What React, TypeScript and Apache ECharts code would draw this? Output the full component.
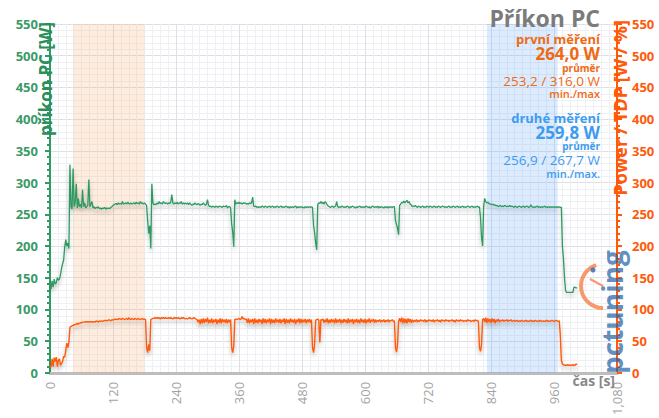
import React, { useEffect, useRef } from "react";
import * as echarts from "echarts";

// sampling step of both measured series, in seconds
const STEP_S = 2;

// příkon PC [W], one value every 2 s from t = 0
const powerPC = [
  138,132,145,135,148,140,142,150,146,148,155,165,172,178,198,210,200,205,196,328,
  262,258,322,262,268,298,260,275,262,266,260,289,262,268,260,262,264,305,262,266,
  270,260,262,259,261,260,262,259,260,258,260,259,261,258,260,259,260,259,261,262,
  264,265,266,267,265,268,266,267,266,270,266,267,268,266,269,267,266,268,266,267,
  268,266,269,267,268,266,270,267,268,266,268,266,264,240,220,232,196,298,268,265,
  266,265,268,266,270,267,268,266,270,268,267,268,266,268,267,269,281,268,266,268,
  267,269,266,268,267,270,266,268,266,268,266,268,265,268,266,264,266,265,268,266,
  265,267,266,264,266,265,268,266,264,266,273,264,262,263,261,263,262,261,263,262,
  261,263,262,262,261,263,262,262,264,260,262,262,260,235,222,199,273,266,268,267,
  269,267,268,266,268,267,268,266,267,266,268,267,268,277,263,262,263,261,262,261,
  262,261,263,262,261,263,262,261,262,263,261,262,263,261,262,261,263,262,261,262,
  263,261,262,261,262,263,261,262,260,262,261,262,261,262,263,260,262,261,262,261,
  262,261,260,262,261,262,261,262,261,262,261,232,221,205,194,266,268,267,270,267,
  269,266,270,268,265,263,262,261,262,263,261,262,263,270,262,261,262,261,263,262,
  261,262,261,263,262,260,262,261,263,262,261,260,262,261,262,263,261,262,261,262,
  261,263,262,261,262,260,261,263,262,261,262,261,263,260,262,261,262,261,260,262,
  261,262,260,262,261,262,261,262,262,240,234,228,218,264,266,269,268,271,268,270,
  272,268,270,266,265,262,263,262,264,262,261,263,262,261,262,263,261,262,261,263,
  262,261,263,262,261,262,263,261,262,261,263,262,261,262,263,262,261,262,261,262,
  263,261,262,261,263,262,261,262,263,261,262,261,262,263,261,262,261,262,263,262,
  261,262,263,261,262,261,262,263,261,262,245,213,200,262,275,270,268,269,267,266,
  266,265,266,264,265,263,264,262,263,264,262,263,262,264,263,262,263,262,264,262,
  263,262,261,263,262,261,262,263,262,261,262,263,261,262,263,262,261,262,265,262,
  261,262,261,262,263,261,262,261,262,261,262,263,261,262,261,262,261,262,261,262,
  261,262,261,262,261,262,261,261,200,180,150,130,127,127,127,127,127,127,127,135,
  135,134,134,
];

// Power / TDP [W / %], one value every 2 s from t = 0
const powerTDP = [
  10,9,22,10,24,18,25,10,20,22,12,15,18,26,25,35,47,40,48,72,
  73,74,75,76,76,77,78,77,78,79,79,80,80,80,81,80,81,80,81,80,
  81,80,81,80,82,81,80,82,81,82,81,82,83,82,83,82,84,83,82,84,
  83,84,85,84,85,84,86,85,84,86,85,84,85,86,84,87,85,84,86,85,
  84,86,85,84,86,85,84,85,86,84,85,84,40,32,45,35,84,85,86,86,
  87,86,87,86,87,85,87,86,87,86,87,86,86,87,86,87,86,85,87,86,
  87,86,87,86,85,87,86,87,86,85,86,85,86,87,86,85,86,87,86,85,
  84,80,84,77,85,78,86,79,85,80,87,78,84,79,86,78,84,80,85,77,
  84,79,86,78,85,80,84,79,85,78,84,80,84,40,32,42,84,85,84,85,
  86,84,85,89,85,86,84,85,79,86,78,84,80,85,77,86,79,84,78,85,
  80,84,77,86,79,85,78,84,80,86,77,85,79,84,78,86,80,84,79,85,
  78,84,80,86,77,85,79,84,78,86,80,84,79,85,77,84,80,86,78,85,
  79,84,80,85,78,84,80,85,79,84,40,32,44,83,84,85,83,48,84,83,
  85,79,84,80,86,78,84,79,85,80,84,78,86,79,84,80,85,78,84,79,
  85,80,84,78,86,79,84,80,85,77,84,80,85,79,84,78,86,80,84,79,
  85,78,84,80,86,79,84,81,85,79,84,80,83,81,84,80,83,81,84,80,
  83,81,84,80,83,82,84,81,82,40,33,45,82,86,80,87,78,86,79,85,
  78,86,80,85,79,84,80,83,81,84,80,83,81,84,82,83,81,84,80,83,
  81,84,82,83,81,84,80,83,82,84,81,83,80,84,82,83,81,84,82,83,
  81,83,82,84,81,83,80,84,82,83,81,84,82,83,81,82,83,81,84,82,
  83,81,82,83,81,84,82,83,81,40,34,45,84,86,80,87,79,86,80,85,
  79,86,80,85,78,84,81,85,80,83,82,84,81,83,82,84,81,83,82,84,
  81,82,83,81,82,83,81,82,81,83,82,81,82,83,81,82,81,82,83,81,
  82,81,83,82,81,82,81,83,82,81,82,81,82,83,81,82,81,82,83,82,
  81,82,83,82,81,82,60,20,14,13,12,12,12,13,12,12,12,12,13,12,
  12,14,13,
];

// measurement windows [s]
const firstRun = [44, 180];
const secondRun = [832, 967];

// axis settings
const xMax = 1080;
const xInterval = 120;
const yMax = 550;
const yInterval = 50;

// texts
const title = "Příkon PC";
const run1 = { name: "první měření", avg: "264,0 W", avgLabel: "průměr", minmax: "253,2 / 316,0 W", minmaxLabel: "min./max" };
const run2 = { name: "druhé měření", avg: "259,8 W", avgLabel: "průměr", minmax: "256,9 / 267,7 W", minmaxLabel: "min./max." };
const leftAxisName = "příkon PC [W]";
const rightAxisName = "Power / TDP [W / %]";
const xAxisName = "čas [s]";

const FONT = "'Open Sans', 'Noto Sans', sans-serif";
const GREEN = "#2f9a62";
const ORANGE = "#ff5a0a";
const TXT_ORANGE = "#ef6a14";
const TXT_BLUE = "#3d9cf0";

const toPairs = (vals: number[]) => vals.map((v, i) => [i * STEP_S, v]);

export default function App() {
  const ref = useRef<HTMLDivElement>(null);
  useEffect(() => {
    document.body.style.margin = "0";
    const chart = echarts.init(ref.current!, null, { renderer: "svg" });
    const lineShadow = {
      shadowColor: "rgba(0,0,0,0.28)",
      shadowBlur: 4,
      shadowOffsetY: 3,
    };
    const txt = (
      text: string,
      x: number,
      y: number,
      fill: string,
      fontSize: number,
      fontWeight: string | number = "bold"
    ) => ({
      type: "text",
      x,
      y,
      z: 100,
      style: {
        text,
        fill,
        fontSize,
        fontWeight,
        fontFamily: FONT,
        lineHeight: Math.round(fontSize * 0.9),
        align: "right",
        verticalAlign: "middle",
      },
    });
    const option: any = {
      animation: false,
      backgroundColor: "#ffffff",
      grid: { left: 50, right: 42, top: 24, bottom: 39 },
      xAxis: {
        type: "value",
        min: 0,
        max: xMax,
        interval: xInterval,
        axisLine: { lineStyle: { color: "#bdbdbd", width: 3 } },
        axisTick: { show: false },
        minorTick: { show: false, splitNumber: 8 },
        axisLabel: {
          rotate: 90,
          color: "#a3a3a3",
          fontSize: 13,
          fontFamily: FONT,
          margin: 9,
        },
        splitLine: { show: true, lineStyle: { color: "#dcdfe6", width: 1 } },
        minorSplitLine: { show: true, lineStyle: { color: "#eef0f4", width: 1 } },
      },
      yAxis: [
        {
          type: "value",
          position: "left",
          min: 0,
          max: yMax,
          interval: yInterval,
          axisLine: { show: true, lineStyle: { color: GREEN, width: 2 } },
          axisTick: { show: true, length: 5, lineStyle: { color: GREEN, width: 2 } },
          minorTick: { show: true, splitNumber: 5, length: 3, lineStyle: { color: GREEN, width: 2 } },
          axisLabel: {
            color: "#3a9a68",
            fontSize: 13,
            fontWeight: "bold",
            fontFamily: FONT,
            margin: 12,
          },
          splitLine: { show: true, lineStyle: { color: "#dcdfe6", width: 1 } },
          minorSplitLine: { show: true, lineStyle: { color: "#eef0f4", width: 1 } },
        },
        {
          type: "value",
          position: "right",
          min: 0,
          max: yMax,
          interval: yInterval,
          axisLine: { show: true, lineStyle: { color: ORANGE, width: 2 } },
          axisTick: { show: true, length: 5, lineStyle: { color: ORANGE, width: 2 } },
          minorTick: { show: true, splitNumber: 5, length: 3, lineStyle: { color: ORANGE, width: 2 } },
          axisLabel: {
            color: ORANGE,
            fontSize: 13,
            fontWeight: "bold",
            fontFamily: FONT,
            margin: 15,
          },
          splitLine: { show: false },
        },
      ],
      series: [
        {
          type: "line",
          name: leftAxisName,
          yAxisIndex: 0,
          data: toPairs(powerPC),
          showSymbol: false,
          symbol: "none",
          lineStyle: { color: GREEN, width: 1.3, ...lineShadow },
          z: 3,
          markArea: {
            silent: true,
            data: [
              [
                { xAxis: firstRun[0], itemStyle: { color: "rgba(250,175,110,0.22)" } },
                { xAxis: firstRun[1] },
              ],
              [
                { xAxis: secondRun[0], itemStyle: { color: "rgba(110,175,250,0.24)" } },
                { xAxis: secondRun[1] },
              ],
            ],
          },
        },
        {
          type: "line",
          name: rightAxisName,
          yAxisIndex: 1,
          data: toPairs(powerTDP),
          showSymbol: false,
          symbol: "none",
          lineStyle: { color: ORANGE, width: 1.4, ...lineShadow },
          z: 4,
        },
      ],
      graphic: [
        // watermark
        {
          type: "arc",
          z: 50,
          shape: { cx: 603, cy: 286, r: 22, startAngle: Math.PI * 0.5, endAngle: Math.PI * 1.4, clockwise: true },
          style: { stroke: "rgba(245,120,60,0.75)", lineWidth: 4, fill: null },
        },
        {
          type: "line",
          z: 50,
          shape: { x1: 603, y1: 286, x2: 590, y2: 279 },
          style: { stroke: "rgba(245,120,60,0.75)", lineWidth: 2 },
        },
        {
          type: "circle",
          z: 50,
          shape: { cx: 593, cy: 270, r: 2.5 },
          style: { fill: "rgba(40,100,170,0.8)" },
        },
        {
          type: "text",
          z: 50,
          x: 612,
          y: 312,
          rotation: Math.PI / 2,
          style: {
            text: "pctuning",
            fill: "rgba(40,100,170,0.72)",
            fontSize: 28,
            fontWeight: "bold",
            fontFamily: FONT,
            align: "center",
            verticalAlign: "middle",
          },
        },
        // axis names
        {
          type: "text",
          z: 100,
          x: 45,
          y: 22,
          rotation: Math.PI / 2,
          style: {
            text: leftAxisName,
            fill: "#2a8f58",
            fontSize: 17,
            fontWeight: "bold",
            fontFamily: FONT,
            align: "right",
            verticalAlign: "middle",
          },
        },
        {
          type: "text",
          z: 100,
          x: 620,
          y: 20,
          rotation: Math.PI / 2,
          style: {
            text: rightAxisName,
            fill: ORANGE,
            fontSize: 18,
            fontWeight: "bold",
            fontFamily: FONT,
            align: "right",
            verticalAlign: "middle",
          },
        },
        {
          type: "text",
          z: 100,
          x: 615,
          y: 380,
          style: {
            text: xAxisName,
            fill: "#888888",
            fontSize: 14,
            fontWeight: "bold",
            fontFamily: FONT,
            align: "right",
            verticalAlign: "middle",
          },
        },
        // title block
        txt(title, 600, 18, "#7b7b7b", 23),
        txt(run1.name, 600, 38.5, TXT_ORANGE, 13),
        txt(run1.avg, 600, 53.5, TXT_ORANGE, 17),
        txt(run1.avgLabel, 600, 67.5, TXT_ORANGE, 10),
        txt(run1.minmax, 600, 80.5, TXT_ORANGE, 13.5, "normal"),
        txt(run1.minmaxLabel, 600, 93.5, TXT_ORANGE, 11, 600),
        txt(run2.name, 600, 117.5, TXT_BLUE, 13),
        txt(run2.avg, 600, 132.5, TXT_BLUE, 17),
        txt(run2.avgLabel, 600, 146, TXT_BLUE, 10),
        txt(run2.minmax, 600, 160, TXT_BLUE, 13.5, "normal"),
        txt(run2.minmaxLabel, 600, 173, TXT_BLUE, 11, 600),
      ],
    };
    chart.setOption(option);
    return () => chart.dispose();
  }, []);
  return <div ref={ref} style={{ width: 659, height: 418 }} />;
}
